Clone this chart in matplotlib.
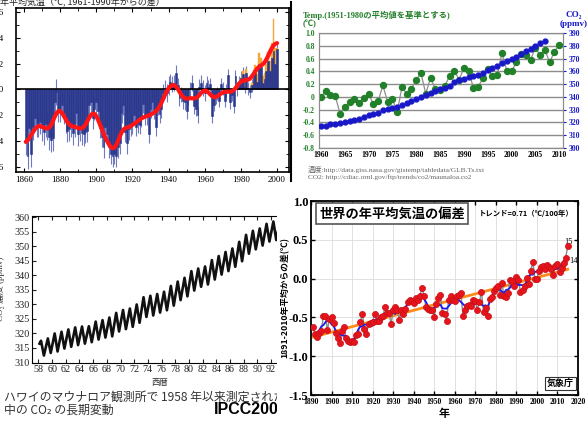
import numpy as np
import matplotlib
matplotlib.use("Agg")
import matplotlib.pyplot as plt
from matplotlib.patches import Rectangle
from matplotlib.lines import Line2D

W, H = 588, 433
SERIF = ['Liberation Serif', 'Noto Sans CJK JP']
JP = ['Noto Sans CJK JP', 'DejaVu Sans']

# --- top left: annual anomaly bars 1861-2000 (vs 1961-1990)
had_years = np.arange(1861, 2001)
had_anom = [
    -0.41, -0.52, -0.30, -0.50, -0.29, -0.22, -0.27, -0.27, -0.25, -0.30,
    -0.33, -0.27, -0.29, -0.37, -0.39, -0.38, -0.10, -0.02, -0.15, -0.15,
    -0.12, -0.18, -0.25, -0.32, -0.31, -0.28, -0.34, -0.28, -0.18, -0.35,
    -0.31, -0.34, -0.35, -0.33, -0.32, -0.12, -0.10, -0.22, -0.15, -0.10,
    -0.17, -0.30, -0.37, -0.45, -0.29, -0.35, -0.45, -0.50, -0.52, -0.50,
    -0.52, -0.45, -0.42, -0.18, -0.12, -0.33, -0.42, -0.31, -0.28, -0.27,
    -0.20, -0.29, -0.27, -0.28, -0.22, -0.11, -0.21, -0.21, -0.35, -0.15,
    -0.10, -0.16, -0.29, -0.13, -0.19, -0.15, -0.03, 0.00, -0.03, 0.03,
    0.06, 0.04, 0.05, 0.13, 0.03, -0.07, -0.04, -0.09, -0.10, -0.17,
    -0.06, 0.00, 0.05, -0.13, -0.15, -0.20, 0.02, 0.05, 0.01, -0.03,
    0.05, 0.02, 0.04, -0.21, -0.12, -0.06, -0.03, -0.09, 0.04, 0.01,
    -0.09, -0.01, 0.11, -0.10, -0.04, -0.13, 0.10, 0.00, 0.05, 0.09,
    0.12, 0.02, 0.13, 0.01, -0.02, 0.03, 0.12, 0.13, 0.06, 0.20,
    0.17, 0.05, 0.08, 0.14, 0.22, 0.14, 0.24, 0.30, 0.20, 0.31,
]
had_err_decade = [0.10, 0.10, 0.09, 0.09, 0.08, 0.08, 0.07, 0.07, 0.06, 0.06,
                  0.05, 0.05, 0.05, 0.05]
recent_years = np.arange(1980, 2001)
recent_anom = [0.09, 0.14, 0.02, 0.16, 0.01, 0.00, 0.05, 0.15, 0.19, 0.12,
               0.28, 0.24, 0.10, 0.13, 0.20, 0.29, 0.22, 0.36, 0.55, 0.32, 0.32]

# --- top right: GISS temp (1951-1980 base) and Mauna Loa CO2
giss_years = np.arange(1960, 2011)
giss_temp = [
    0.00, 0.09, 0.03, 0.02, -0.26, -0.16, -0.08, -0.03, -0.10, -0.01,
    0.04, -0.11, -0.07, 0.18, -0.08, -0.03, -0.24, 0.15, 0.05, 0.12,
    0.27, 0.37, 0.05, 0.30, 0.12, 0.11, 0.17, 0.33, 0.41, 0.27,
    0.45, 0.41, 0.14, 0.16, 0.29, 0.44, 0.33, 0.35, 0.69, 0.41,
    0.40, 0.54, 0.67, 0.65, 0.58, 0.77, 0.65, 0.74, 0.54, 0.71, 0.81,
]
co2_years = np.arange(1960, 2008)
co2_ppm = [
    316.9, 317.6, 318.5, 319.0, 319.6, 320.0, 321.4, 322.2, 323.0, 324.6,
    325.7, 326.3, 327.5, 329.7, 330.2, 331.1, 332.1, 333.8, 335.4, 336.8,
    338.7, 339.9, 341.1, 342.8, 344.4, 345.9, 347.2, 348.9, 351.5, 352.9,
    354.2, 355.5, 356.3, 357.0, 358.9, 360.9, 362.6, 363.8, 366.6, 368.3,
    369.5, 371.1, 373.2, 375.8, 377.5, 379.8, 381.9, 383.8,
]

# --- bottom left: Mauna Loa seasonal peaks (May) and troughs (Oct), 1958-1993
ml_years = np.arange(58, 94)
ml_peak = [317.5, 318.3, 320.0, 320.6, 321.4, 322.1, 322.4, 322.5, 324.1, 324.6,
           325.5, 327.1, 328.1, 328.6, 330.0, 332.5, 333.0, 333.6, 334.4, 336.4,
           337.9, 339.2, 341.5, 342.4, 343.1, 345.3, 346.7, 348.1, 349.3, 351.6,
           354.0, 355.4, 356.2, 357.8, 358.6, 359.0]
ml_trough = [312.4, 313.3, 313.8, 314.8, 315.4, 316.0, 316.5, 317.0, 317.9, 318.6,
             319.0, 320.7, 321.5, 322.3, 323.7, 325.7, 326.2, 327.2, 328.0, 329.6,
             331.5, 332.8, 334.8, 336.1, 336.9, 338.6, 340.3, 341.5, 343.0, 344.9,
             347.5, 349.0, 350.3, 351.7, 352.2, 353.0]
ml_start = 316.5

# --- bottom right: JMA global annual anomaly 1891-2015
jma_years = np.arange(1891, 2016)
jma_anom = [
    -0.63, -0.71, -0.75, -0.70, -0.68, -0.48, -0.48, -0.66, -0.52, -0.50,
    -0.57, -0.70, -0.76, -0.83, -0.67, -0.62, -0.77, -0.80, -0.82, -0.80,
    -0.82, -0.73, -0.71, -0.56, -0.45, -0.65, -0.72, -0.58, -0.57, -0.56,
    -0.45, -0.55, -0.55, -0.50, -0.48, -0.37, -0.44, -0.44, -0.59, -0.40,
    -0.36, -0.40, -0.53, -0.40, -0.45, -0.39, -0.30, -0.27, -0.29, -0.31,
    -0.25, -0.27, -0.22, -0.12, -0.22, -0.37, -0.39, -0.40, -0.41, -0.49,
    -0.33, -0.25, -0.21, -0.44, -0.46, -0.55, -0.27, -0.22, -0.28, -0.29,
    -0.22, -0.21, -0.19, -0.48, -0.41, -0.35, -0.34, -0.35, -0.27, -0.29,
    -0.40, -0.30, -0.17, -0.43, -0.38, -0.48, -0.26, -0.24, -0.16, -0.12,
    -0.10, -0.21, -0.06, -0.23, -0.24, -0.18, -0.02, -0.03, -0.10, 0.02,
    -0.02, -0.17, -0.15, -0.09, 0.01, -0.07, 0.10, 0.22, 0.00, 0.00,
    0.10, 0.15, 0.16, 0.13, 0.17, 0.15, 0.13, 0.05, 0.16, 0.19,
    0.08, 0.14, 0.20, 0.27, 0.42,
]


def rect(x0, y0, x1, y1):
    return [x0 / W, 1 - y1 / H, (x1 - x0) / W, (y1 - y0) / H]


def fig_text(x, y, s, **kw):
    return fig.text(x / W, 1 - y / H, s, **kw)


def smooth(vals, sigma=2.5):
    k = np.arange(-8, 9)
    w = np.exp(-0.5 * (k / sigma) ** 2)
    num = np.convolve(vals, w, mode='same')
    den = np.convolve(np.ones(len(vals)), w, mode='same')
    return num / den


fig = plt.figure(figsize=(W / 100, H / 100), dpi=100)

# ---------------- top left
navy = '#2a388e'
ax1 = fig.add_axes(rect(16, 8.3, 289, 171.7))
anom = np.array(had_anom)
err = np.repeat(had_err_decade, 10)
ax1.vlines(had_years, anom - err, anom + err, color='#6f7cc2', lw=0.8, zorder=1)
ax1.bar(recent_years, recent_anom, width=1.0, color='#f2a83b',
        edgecolor='#f2a83b', lw=0.3, zorder=2)
ax1.bar(had_years, anom, width=1.0, color=navy, edgecolor=navy, lw=0.4, zorder=3)
ax1.axhline(0, color='black', lw=1.2, zorder=4)
true_anom = anom.copy()
true_anom[-len(recent_anom):] = recent_anom
ax1.plot(had_years, smooth(true_anom), color='#ff1515', lw=3, zorder=5,
         solid_capstyle='round')
ax1.set_xlim(1855.6, 2006.6)
ax1.set_ylim(-0.64, 0.63)
ax1.set_xticks(np.arange(1860, 2001, 20))
ax1.set_xticks(np.arange(1860, 2001, 10), minor=True)
ax1.set_yticks(np.arange(-0.6, 0.61, 0.2))
ax1.set_yticks(np.arange(-0.6, 0.61, 0.1), minor=True)
ax1.set_yticklabels(['-0.6', '-0.4', '-0.2', '0.0', '0.2', '0.4', '0.6'])
ax1.tick_params(which='both', direction='in', top=True, right=True,
                labelsize=6.5, length=3, pad=3)
ax1.tick_params(axis='y', pad=9)
ax1.tick_params(which='minor', length=2)
for lab in ax1.get_xticklabels() + ax1.get_yticklabels():
    lab.set_family(SERIF)
for s in ax1.spines.values():
    s.set_linewidth(1.2)
fig_text(0, 1, '年平均気温（℃, 1961-1990年からの差）', fontsize=6.5,
         family=JP, va='center', color='#222222')

# ---------------- top right
green = '#23802a'
blue = '#1818c8'
ax2 = fig.add_axes(rect(319, 33, 563, 148))
ax2.set_xlim(1959.6, 2010.8)
ax2.set_ylim(-0.8, 1.0)
ax2.set_yticks(np.arange(-0.8, 1.01, 0.2))
ax2.set_yticklabels(['-0.8', '-0.6', '-0.4', '-0.2', '0', '0.2', '0.4', '0.6', '0.8', '1.0'])
ax2.set_xticks(np.arange(1960, 2011, 5))
ax2.grid(axis='y', color='#8c8c8c', lw=1)
ax2.plot(giss_years, giss_temp, color='#8f8f8f', lw=0.9, marker='o', ms=4.3,
         mfc=green, mec=green, zorder=4)
ax2.tick_params(axis='y', colors=green, labelsize=5.5, length=0, pad=3)
ax2.tick_params(axis='x', labelsize=5.5, length=0, pad=2)
ax2b = ax2.twinx()
ax2b.set_ylim(300, 390)
ax2b.set_yticks(np.arange(300, 391, 10))
ax2b.plot(co2_years, co2_ppm, ls='none', marker='o', ms=3.5, color=blue, zorder=5)
ax2b.tick_params(axis='y', colors=blue, labelsize=5.5, length=2, pad=2)
for a in (ax2, ax2b):
    for s in a.spines.values():
        s.set_color('#8c8c8c')
for lab in ax2.get_xticklabels() + ax2.get_yticklabels() + ax2b.get_yticklabels():
    lab.set_family(SERIF)
    lab.set_fontweight('bold')
fig_text(303, 15, 'Temp.(1951-1980の平均値を基準とする)', fontsize=6, color=green,
         family=SERIF, fontweight='bold', va='center')
fig_text(303, 24, '(℃)', fontsize=6, color=green, family=SERIF,
         fontweight='bold', va='center')
fig_text(582, 15, 'CO₂', fontsize=6.5, color=blue, family=SERIF,
         fontweight='bold', va='center', ha='right')
fig_text(588, 24, '(ppmv)', fontsize=6.5, color=blue, family=SERIF,
         fontweight='bold', va='center', ha='right')
fig_text(308, 169, '温度:http://data.giss.nasa.gov/gistemp/tabledata/GLB.Ts.txt',
         fontsize=5.3, color='#666666', family=SERIF, va='center')
fig_text(308, 177, 'CO2: http://cdiac.ornl.gov/ftp/trends/co2/maunaloa.co2',
         fontsize=5.3, color='#666666', family=SERIF, va='center')
fig.add_artist(Line2D([291 / W, 291 / W], [1 - 2 / H, 1 - 181 / H],
                      transform=fig.transFigure, color='black', lw=1.5))

# ---------------- bottom left
ax3 = fig.add_axes(rect(32, 216, 290, 362.5))
ml_x = [58.15]
ml_y = [ml_start]
for yr, pk, tr in zip(ml_years, ml_peak, ml_trough):
    ml_x += [yr + 0.37, yr + 0.79]
    ml_y += [pk, tr]
ax3.plot(ml_x, ml_y, color='#111111', lw=1.9, solid_joinstyle='round')
ax3.set_xlim(57.05, 94.8)
ax3.set_ylim(310, 360.5)
ax3.set_xticks(np.arange(58, 95, 2))
ax3.set_yticks(np.arange(310, 361, 5))
ax3.tick_params(direction='in', top=True, right=True, labelsize=7.3,
                length=3, pad=2, colors='#222222')
for lab in ax3.get_xticklabels() + ax3.get_yticklabels():
    lab.set_family(SERIF)
ax3.set_ylabel('CO₂ 濃度 (ppmv)', family=SERIF, fontsize=6.5, color='#333333')
ax3.yaxis.set_label_coords(-0.105, 0.5)
fig_text(160, 383, '西暦', fontsize=6, family=JP, color='#333333', va='center',
         ha='center')
fig_text(4, 397, 'ハワイのマウナロア観測所で 1958 年以来測定された大気',
         fontsize=8.6, family=JP, color='#333333', va='center')
fig_text(4, 410, '中の CO₂ の長期変動', fontsize=8.6, family=JP,
         color='#333333', va='center')
fig_text(214, 410, 'IPCC2001', fontsize=11.5, family='Liberation Sans',
         fontweight='bold', va='center')

# white backdrop of bottom right panel
fig.add_artist(Rectangle((277 / W, 0), 1 - 277 / W, 1 - 186 / H,
                         transform=fig.transFigure, facecolor='white',
                         edgecolor='none', zorder=4))

# ---------------- bottom right
ax4 = fig.add_axes(rect(311, 201, 578, 395))
ax4.set_zorder(5)
yrs = np.array(jma_years)
vals = np.array(jma_anom)
run5 = np.convolve(vals, np.ones(5) / 5, mode='valid')
coef = np.polyfit(yrs, vals, 1)
ax4.plot(yrs, np.polyval(coef, yrs), color='#ff8a1c', lw=2, zorder=2)
ax4.plot(yrs, vals, color='#8a8a8a', lw=1, zorder=3)
ax4.plot(yrs[2:-2], run5, color='#1a1aee', lw=1.3, zorder=4)
ax4.plot(yrs, vals, ls='none', marker='o', ms=4.4, color='#e8141c',
         mec='#c40f16', mew=0.5, zorder=5)
ax4.set_xlim(1890, 2020)
ax4.set_ylim(-1.5, 1.0)
ax4.set_xticks(np.arange(1890, 2021, 10))
ax4.set_yticks(np.arange(-1.5, 1.01, 0.5))
ax4.set_yticklabels(['-1.5', '-1.0', '-0.5', '0.0', '0.5', '1.0'])
ax4.grid(color='#dcdcdc', lw=0.6)
ax4.tick_params(direction='in', top=True, right=True, length=3, width=1)
ax4.tick_params(axis='y', labelsize=9, pad=2)
ax4.tick_params(axis='x', labelsize=5.5, pad=2)
for lab in ax4.get_xticklabels() + ax4.get_yticklabels():
    lab.set_family(SERIF)
    lab.set_fontweight('bold')
for s in ax4.spines.values():
    s.set_linewidth(1.3)
ax4.set_xlabel('年', family=JP, fontsize=8, fontweight='bold', labelpad=1)
ax4.set_ylabel('1891-2010年平均からの差(℃)', family=JP, fontsize=6.3,
               fontweight='bold')
ax4.yaxis.set_label_coords(-0.08, 0.5)
ax4.text(0.03, 0.935, '世界の年平均気温の偏差', transform=ax4.transAxes,
         family=JP, fontsize=9.5, fontweight='bold', va='center',
         bbox=dict(boxstyle='square,pad=0.25', fc='white', ec='#555555', lw=1.2))
ax4.text(0.985, 0.935, 'トレンド=0.71（℃/100年）', transform=ax4.transAxes,
         family=JP, fontsize=5.3, fontweight='bold', va='center', ha='right')
ax4.text(0.985, 0.06, '気象庁', transform=ax4.transAxes, family=JP,
         fontsize=6.5, fontweight='bold', va='center', ha='right',
         bbox=dict(boxstyle='square,pad=0.2', fc='white', ec='#333333', lw=0.8))
ax4.text(2013.5, 0.47, '15', family=SERIF, fontsize=6, va='center')
ax4.text(2015.5, 0.23, '14', family=SERIF, fontsize=6, va='center')

fig.savefig('out.png', dpi=100)
